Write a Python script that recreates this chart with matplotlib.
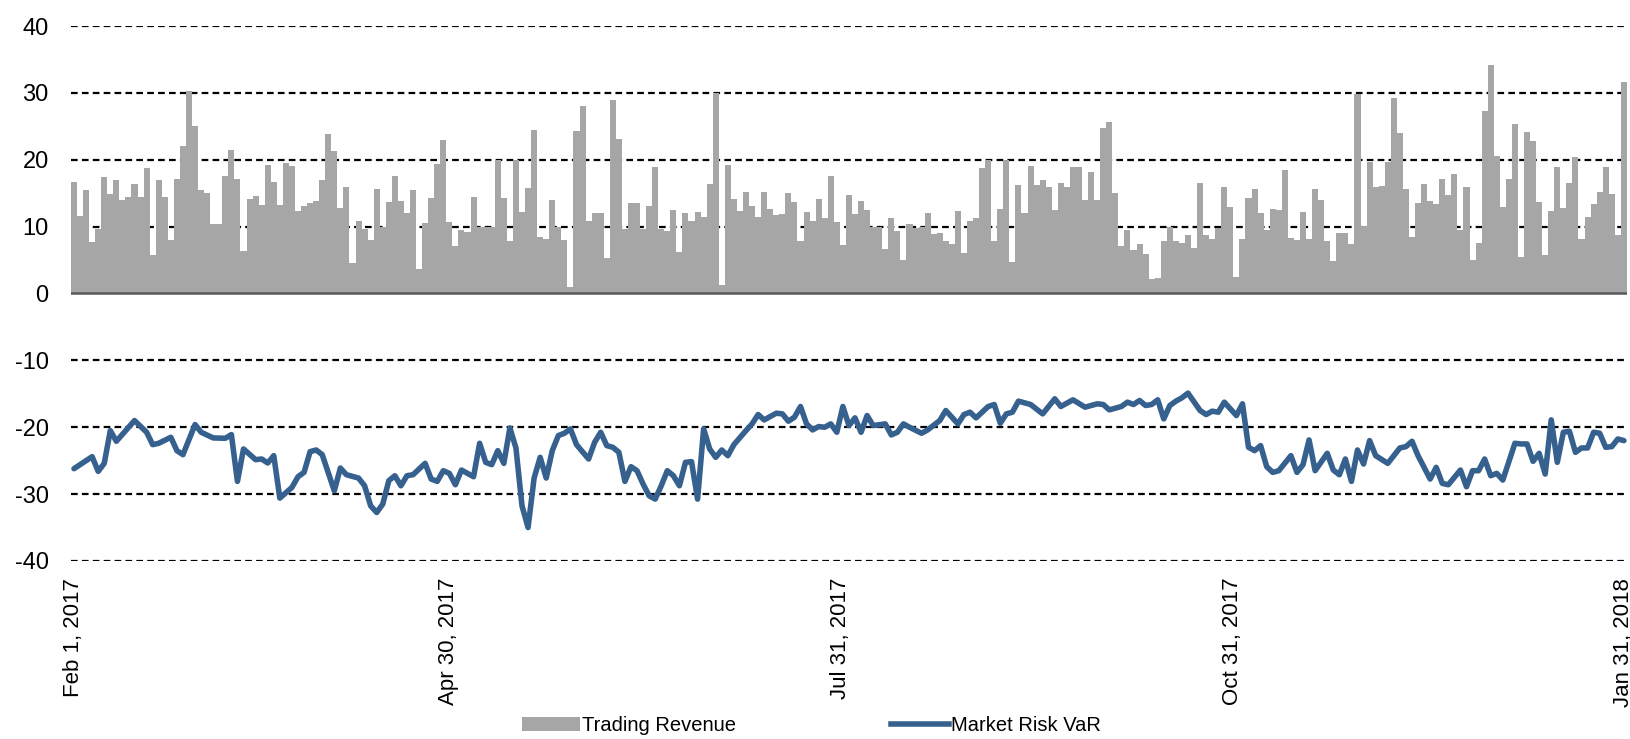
import numpy as np
import pandas as pd
import matplotlib
matplotlib.use("Agg")
import matplotlib.pyplot as plt
from matplotlib.patches import Patch
from matplotlib.lines import Line2D

plt.rcParams["font.family"] = ["Liberation Sans", "DejaVu Sans"]
plt.rcParams["axes.unicode_minus"] = False

# daily trading revenue ($M), one bar per trading day, Feb 1 2017 - Jan 31 2018
revenue = [
    16.6, 11.6, 15.5, 7.75, 9.6, 17.4, 14.9, 17.0, 14.0, 14.4, 16.3, 14.4, 18.8, 5.8, 17.0,
    14.5, 8.0, 17.1, 22.0, 30.3, 25.0, 15.5, 15.1, 10.4, 10.4, 17.6, 21.5, 17.1, 6.3, 14.2,
    14.6, 13.3, 19.2, 16.7, 13.3, 19.5, 19.1, 12.4, 13.1, 13.5, 13.9, 17.0, 23.9, 21.3, 12.8,
    16.0, 4.5, 10.9, 9.7, 8.0, 15.6, 9.9, 13.7, 17.6, 13.8, 12.0, 15.5, 3.65, 10.5, 14.3,
    19.4, 23.0, 10.7, 7.15, 9.5, 9.15, 14.4, 10.0, 10.0, 9.9, 19.9, 14.3, 7.9, 19.9, 12.2,
    15.75, 24.5, 8.5, 8.2, 14.0, 10.0, 8.0, 1.0, 24.3, 28.0, 10.8, 12.0, 12.0, 5.25, 29.0,
    23.1, 9.6, 13.6, 13.5, 9.7, 13.1, 18.9, 9.6, 9.3, 12.55, 6.25, 12.1, 10.9, 12.2, 11.4,
    16.4, 30.0, 1.25, 19.2, 14.1, 12.4, 15.25, 13.1, 11.4, 15.2, 12.7, 11.8, 11.9, 15.1, 13.65,
    7.8, 12.2, 10.8, 14.2, 11.25, 17.5, 10.65, 7.2, 14.75, 11.9, 13.8, 12.5, 10.0, 9.9, 6.6,
    11.25, 9.35, 5.0, 10.35, 9.75, 10.0, 12.1, 8.85, 9.0, 7.85, 7.4, 12.4, 6.1, 10.85, 11.3,
    18.75, 20.0, 7.9, 12.7, 20.0, 4.65, 16.2, 12.1, 19.1, 16.2, 16.9, 15.9, 12.45, 16.5, 16.0,
    18.9, 18.9, 14.0, 18.2, 14.0, 24.7, 25.7, 15.05, 7.15, 9.5, 6.5, 7.4, 5.9, 2.2, 2.3,
    7.85, 10.0, 7.8, 7.55, 8.7, 6.75, 16.5, 8.8, 8.1, 9.75, 16.0, 13.0, 2.4, 8.1, 14.3,
    15.6, 12.0, 9.5, 12.6, 12.5, 18.4, 8.35, 8.0, 12.15, 8.2, 15.6, 14.0, 7.9, 4.9, 9.0,
    9.0, 7.4, 29.9, 10.15, 19.6, 16.0, 16.1, 19.6, 29.3, 24.0, 15.6, 8.4, 13.6, 16.3, 13.85,
    13.4, 17.1, 14.8, 17.9, 9.5, 16.0, 5.0, 7.6, 27.3, 34.1, 20.55, 12.9, 17.1, 25.4, 5.4,
    24.1, 22.8, 13.7, 5.7, 12.35, 18.9, 12.75, 16.5, 20.4, 8.2, 11.4, 13.4, 15.2, 18.9, 14.9,
    8.8, 31.7,
]

# market risk VaR ($M): trading-day index and value at each turning point of the line
var_day = [
    0, 3, 4, 5, 6, 7, 10, 12, 13, 14, 16, 17, 18, 20, 21, 23, 25, 26, 27, 28,
    30, 31, 32, 33, 34, 36, 37, 38, 39, 40, 41, 43, 44, 45, 47, 48, 49, 50, 51, 52,
    53, 54, 55, 56, 58, 59, 60, 61, 62, 63, 64, 66, 67, 68, 69, 70, 71, 72, 73, 74,
    75, 76, 77, 78, 79, 80, 81, 82, 83, 85, 86, 87, 88, 89, 90, 91, 92, 93, 94, 95,
    96, 97, 98, 99, 100, 101, 102, 103, 104, 105, 106, 107, 108, 109, 111, 112, 113, 114, 116, 117,
    118, 119, 120, 121, 122, 123, 124, 125, 126, 127, 128, 129, 130, 131, 132, 134, 135, 136, 137, 138,
    140, 141, 143, 144, 146, 147, 148, 149, 151, 152, 153, 154, 155, 156, 158, 160, 162, 163, 165, 167,
    169, 170, 171, 173, 174, 175, 176, 177, 178, 179, 180, 181, 182, 183, 184, 186, 187, 188, 189, 190,
    191, 192, 193, 194, 195, 196, 197, 198, 199, 201, 202, 203, 204, 205, 207, 208, 209, 210, 211, 212,
    213, 214, 215, 217, 219, 220, 221, 222, 224, 225, 226, 227, 229, 230, 231, 232, 233, 234, 235, 236,
    238, 239, 240, 241, 242, 243, 244, 245, 246, 247, 248, 249, 250, 251, 252, 253, 254, 255, 256,
]
var_value = [
    -26.2, -24.4, -26.6, -25.4, -20.5, -22.1, -19.0, -20.75, -22.6, -22.4, -21.5, -23.5, -24.1, -19.6, -20.75,
    -21.6, -21.65, -21.1, -28.1, -23.25, -24.85, -24.75, -25.35, -24.25, -30.6, -29.0, -27.4, -26.75, -23.65, -23.4,
    -24.1, -29.5, -26.1, -27.1, -27.6, -28.75, -31.75, -32.75, -31.5, -28.0, -27.25, -28.75, -27.25, -27.1, -25.4,
    -27.75, -28.1, -26.5, -26.9, -28.6, -26.4, -27.4, -22.4, -25.25, -25.6, -23.5, -25.4, -20.1, -23.1, -31.75,
    -35.0, -27.6, -24.5, -27.6, -23.5, -21.25, -20.9, -20.25, -22.6, -24.75, -22.25, -20.75, -22.75, -23.0, -23.75,
    -28.1, -25.9, -26.5, -28.5, -30.25, -30.75, -28.75, -26.5, -27.25, -28.75, -25.25, -25.15, -30.75, -20.25, -23.25,
    -24.5, -23.4, -24.25, -22.6, -20.5, -19.5, -18.1, -18.9, -17.9, -18.0, -19.1, -18.5, -16.9, -19.5, -20.4,
    -19.9, -20.0, -19.5, -20.75, -16.9, -19.75, -18.6, -20.75, -18.25, -19.75, -19.5, -21.15, -20.75, -19.5, -20.0,
    -20.9, -20.4, -19.0, -17.5, -19.5, -18.1, -17.75, -18.6, -16.9, -16.6, -19.4, -18.0, -17.75, -16.1, -16.6,
    -18.0, -15.75, -16.9, -15.9, -17.0, -16.5, -16.6, -17.4, -16.9, -16.25, -16.6, -16.0, -16.75, -16.6, -15.9,
    -18.75, -16.75, -16.1, -15.6, -14.9, -17.5, -18.1, -17.6, -17.75, -16.25, -17.25, -18.25, -16.5, -23.0, -23.5,
    -22.75, -25.9, -26.75, -26.5, -24.25, -26.75, -25.6, -21.9, -26.5, -23.9, -26.4, -27.1, -24.75, -28.1, -23.4,
    -25.5, -22.0, -24.25, -25.4, -23.1, -22.9, -22.1, -24.25, -27.75, -26.0, -28.4, -28.6, -26.4, -28.9, -26.5,
    -26.5, -24.75, -27.25, -26.9, -27.9, -22.4, -22.5, -22.5, -25.1, -23.9, -27.0, -18.9, -25.25, -20.75, -20.6,
    -23.75, -23.1, -23.1, -20.75, -20.9, -23.0, -22.9, -21.75, -22.0,
]

tick_dates = ["2017-02-01", "2017-04-30", "2017-07-31", "2017-10-31", "2018-01-31"]
tick_labels = ["Feb 1, 2017", "Apr 30, 2017", "Jul 31, 2017", "Oct 31, 2017", "Jan 31, 2018"]
y_ticks = [-40, -30, -20, -10, 0, 10, 20, 30, 40]

bar_color = "#a6a6a6"
line_color = "#36618f"

n = len(revenue)
x = np.arange(n)

fig = plt.figure(figsize=(16.31, 7.39), dpi=100)
ax = fig.add_axes([0.0435, 0.2409, 0.954, 0.7239])

ax.bar(x, revenue, width=1.0, color=bar_color, linewidth=0, zorder=2)
ax.axhline(0, color="#595959", linewidth=1.8, zorder=3)
ax.plot(var_day, var_value, color=line_color, linewidth=4.0,
        solid_joinstyle="round", solid_capstyle="round", zorder=4)

# dashed gridlines behind the bars
for yv in y_ticks:
    if yv != 0:
        ax.axhline(yv, color="black", linewidth=1.6, dashes=(3.0, 1.9), zorder=1)

ax.set_xlim(-0.5, n - 0.5)
ax.set_ylim(-40, 40)
ax.set_yticks(y_ticks)
ax.set_yticklabels([str(v) for v in y_ticks], fontsize=17)

# place date labels proportionally along the trading-day axis
dts = pd.to_datetime(tick_dates)
frac = (dts - dts[0]) / (dts[-1] - dts[0])
ax.set_xticks(np.asarray(frac, dtype=float) * (n - 1))
ax.set_xticklabels(tick_labels, rotation=90, fontsize=16, va="top")

ax.tick_params(axis="both", length=0)
ax.tick_params(axis="y", pad=16)
ax.tick_params(axis="x", pad=12)
for s in ax.spines.values():
    s.set_visible(False)

handles = [Patch(facecolor=bar_color, edgecolor="none"),
           Line2D([0], [0], color=line_color, linewidth=4.0)]
fig.legend(handles, ["Trading Revenue", "Market Risk VaR"], loc="center",
           bbox_to_anchor=(0.4975, 0.0176), ncol=2, frameon=False,
           fontsize=14.5, handlelength=2.9, handletextpad=0.1,
           columnspacing=7.7, borderpad=0)

fig.savefig("out.png", dpi=100)
